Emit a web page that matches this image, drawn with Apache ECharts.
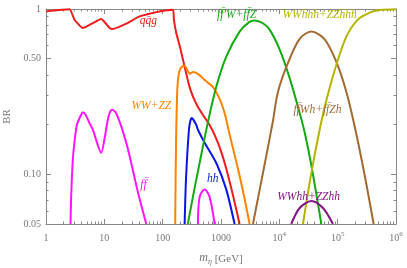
<!DOCTYPE html>
<html><head><meta charset="utf-8">
<script src="https://cdn.jsdelivr.net/npm/echarts@6/dist/echarts.min.js"></script>
<style>html,body{margin:0;padding:0;background:#fff}#c{width:407px;height:268px}</style>
</head><body><div id="c"></div>
<script>
// ---- data (mass in GeV, branching ratio) ----
const qqgM  = [1, 2.53, 3.08, 4.28, 6.1, 8.85, 12.3, 14, 23.8, 40.2, 88.5, 150, 156, 171, 195, 224, 257, 288, 331, 398, 501, 631, 794, 1000, 1259, 1585, 2084];
const qqgBR = [0.967, 0.995, 0.861, 0.767, 0.815, 0.87, 0.767, 0.757, 0.815, 0.902, 0.967, 0.99, 0.86, 0.716, 0.603, 0.49, 0.398, 0.339, 0.295, 0.257, 0.226, 0.2, 0.17, 0.138, 0.105, 0.076, 0.05];
const wwM   = [164, 167, 171, 176, 182, 195, 215, 238, 262, 289, 330, 400, 560, 718, 875, 1024, 1199, 1406, 1711, 2084, 2540, 3096];
const wwBR  = [0.05, 0.1, 0.186, 0.29, 0.365, 0.425, 0.447, 0.454, 0.43, 0.405, 0.415, 0.405, 0.365, 0.339, 0.303, 0.267, 0.223, 0.174, 0.131, 0.098, 0.071, 0.05];
const hhM   = [238, 251, 282, 300, 316, 335, 377, 402, 525, 830, 1230, 1710];
const hhBR  = [0.05, 0.093, 0.186, 0.212, 0.219, 0.214, 0.199, 0.186, 0.155, 0.117, 0.081, 0.05];
const ffWM  = [270, 330, 402, 596, 830, 1230, 2084, 3000, 3770, 5230, 6820, 10100, 15000, 22300, 27100, 35400, 52500];
const ffWBR = [0.05, 0.073, 0.104, 0.206, 0.338, 0.515, 0.73, 0.83, 0.853, 0.82, 0.75, 0.57, 0.383, 0.235, 0.18, 0.113, 0.05];
const ffWhM  = [3530, 5600, 7770, 9460, 14000, 22300, 35400, 59800, 95000, 141000, 195000, 290000, 414000];
const ffWhBR = [0.05, 0.115, 0.21, 0.315, 0.47, 0.66, 0.73, 0.655, 0.478, 0.315, 0.196, 0.099, 0.05];
const hhhM  = [25400, 35400, 49100, 64000, 95000, 141000, 220000, 354000, 525000, 1000000];
const hhhBR = [0.05, 0.102, 0.186, 0.28, 0.46, 0.68, 0.86, 0.95, 0.985, 0.997];
const vvhhM  = [16000, 22300, 35400, 56000, 83000];
const vvhhBR = [0.05, 0.0625, 0.069, 0.0625, 0.05];
const ffLowM  = [2.63, 2.7, 2.88, 3.1, 3.4, 4.0, 4.28, 4.76, 5.57, 6.35, 8.85, 10.2, 11.5, 12.5, 13.5, 15.5, 19.5, 25, 28.9, 37.6, 52.3];
const ffLowBR = [0.05, 0.073, 0.122, 0.16, 0.2, 0.229, 0.237, 0.229, 0.204, 0.186, 0.135, 0.168, 0.215, 0.238, 0.246, 0.238, 0.195, 0.145, 0.117, 0.078, 0.05];
const ffHighM  = [402, 430, 525, 637, 777];
const ffHighBR = [0.05, 0.073, 0.081, 0.073, 0.05];

const xMajor = [1, 10, 100, 1000, 10000, 100000, 1000000];
const yMajor = [0.05, 0.1, 0.5, 1];
const yMajorText = ['0.05', '0.10', '0.50', '1'];
const xMinorMult = [2, 3, 4, 5, 6, 7, 8, 9];
const yMinor = [0.06, 0.07, 0.08, 0.09, 0.2, 0.3, 0.4, 0.6, 0.7, 0.8, 0.9];
// ---------------------------------------------

const xMinor = [];
for (let d = 1; d < 1e6; d *= 10) xMinorMult.forEach(m => xMinor.push(m * d));

const SERIF = "'Liberation Serif', 'DejaVu Serif', serif";
const AX = '#888';
const TXT = '#777';

const pairs = (xs, ys) => xs.map((x, i) => [x, ys[i]]);

function xAxisDef(pos, ticks, len, main) {
  return {
    type: 'log', logBase: 10, min: 1, max: 1e6, position: pos, gridIndex: 0,
    axisLine: { show: main, onZero: false, lineStyle: { color: AX, width: 1 } },
    axisTick: { show: true, inside: true, length: len, customValues: ticks, lineStyle: { color: AX, width: 1 } },
    axisLabel: { show: false },
    splitLine: { show: false }, minorTick: { show: false }
  };
}
function yAxisDef(pos, ticks, len, main) {
  return {
    type: 'log', logBase: 10, min: 0.05, max: 1, position: pos, gridIndex: 0,
    axisLine: { show: main, onZero: false, lineStyle: { color: AX, width: 1 } },
    axisTick: { show: true, inside: true, length: len, customValues: ticks, lineStyle: { color: AX, width: 1 } },
    axisLabel: { show: false },
    splitLine: { show: false }, minorTick: { show: false }
  };
}

const xa0 = xAxisDef('bottom', xMajor, 5, true);
xa0.axisLabel = {
  show: true, customValues: xMajor, margin: 7, color: TXT, fontFamily: SERIF, fontSize: 10,
  formatter: v => {
    const e = Math.round(Math.log10(v));
    if (e <= 3) return '{b|' + Math.round(Math.pow(10, e)) + '}';
    return '{b|10}{s|' + e + '}';
  },
  rich: {
    b: { fontFamily: SERIF, fontSize: 10, color: TXT, lineHeight: 12, verticalAlign: 'bottom' },
    s: { fontFamily: SERIF, fontSize: 7, color: TXT, lineHeight: 12, verticalAlign: 'top', padding: [0, 0, 4, 0] }
  }
};
xa0.name = '{i|m}{s|η} [GeV]';
xa0.nameLocation = 'middle';
xa0.nameGap = 28;
xa0.nameTextStyle = {
  color: TXT, fontFamily: SERIF, fontSize: 11,
  rich: {
    i: { fontFamily: SERIF, fontStyle: 'italic', fontSize: 12, color: TXT, lineHeight: 14, verticalAlign: 'top' },
    s: { fontFamily: SERIF, fontStyle: 'italic', fontSize: 8, color: TXT, lineHeight: 14, verticalAlign: 'bottom' }
  }
};

const ya0 = yAxisDef('left', yMajor, 5, true);
ya0.axisLabel = {
  show: true, customValues: yMajor, margin: 5, color: TXT, fontFamily: SERIF, fontSize: 10,
  formatter: v => {
    let best = 0;
    yMajor.forEach((t, i) => { if (Math.abs(t - v) < Math.abs(yMajor[best] - v)) best = i; });
    return yMajorText[best];
  }
};
ya0.name = 'BR';
ya0.nameLocation = 'middle';
ya0.nameGap = 33;
ya0.nameTextStyle = { color: TXT, fontFamily: SERIF, fontSize: 11 };

function lbl(coord, text, color) {
  return {
    symbol: 'circle', symbolSize: 0, silent: true, animation: false,
    label: { show: true, position: 'inside', formatter: text, color: color, fontFamily: SERIF, fontStyle: 'italic', fontSize: 11.5 },
    data: [{ coord: coord }]
  };
}

function line(name, xs, ys, color, mp, sm) {
  const s = {
    name: name, type: 'line', xAxisIndex: 0, yAxisIndex: 0,
    data: pairs(xs, ys), showSymbol: false, symbol: 'none',
    smooth: sm == null ? 0.3 : sm, clip: true,
    lineStyle: { color: color, width: 2 }, animation: false
  };
  if (mp) s.markPoint = mp;
  return s;
}

const C = {
  red: '#ee1c1c', orange: '#ff8200', blue: '#0a14e6', green: '#14a814',
  brown: '#a06a32', olive: '#b4b400', magenta: '#ff14ff', purple: '#841484'
};
const fb = 'f\u0304';

const option = {
  animation: false,
  backgroundColor: '#fff',
  grid: { left: 46, right: 11, top: 9, bottom: 44, containLabel: false, outerBoundsMode: 'none' },
  xAxis: [
    xa0,
    xAxisDef('bottom', xMinor, 2.5, false),
    xAxisDef('top', xMajor, 5, true),
    xAxisDef('top', xMinor, 2.5, false)
  ],
  yAxis: [
    ya0,
    yAxisDef('left', yMinor, 2.5, false),
    yAxisDef('right', yMajor, 5, true),
    yAxisDef('right', yMinor, 2.5, false)
  ],
  series: [
    line('qqg', qqgM, qqgBR, C.red, lbl([57, 0.85], 'q' + 'q\u0304' + 'g', C.red), 0.15),
    line('WW+ZZ', wwM, wwBR, C.orange, lbl([64, 0.26], 'WW+ZZ', C.orange), 0.15),
    line('hh', hhM, hhBR, C.blue, lbl([720, 0.093], 'hh', C.blue), 0.25),
    line('ffW', ffWM, ffWBR, C.green, lbl([1850, 0.924], 'f' + fb + '\u2032W+f' + fb + 'Z', C.green)),
    line('ffWh', ffWhM, ffWhBR, C.brown, lbl([45000, 0.246], 'f' + fb + 'Wh+f' + fb + 'Zh', C.brown)),
    line('hhh', hhhM, hhhBR, C.olive, lbl([49000, 0.924], 'WWhhh+ZZhhh', C.olive)),
    line('vvhh', vvhhM, vvhhBR, C.purple, lbl([31800, 0.0732], 'WWhh+ZZhh', C.purple)),
    line('ff', ffLowM, ffLowBR, C.magenta, lbl([47, 0.0865], 'f' + fb, C.magenta), 0.25),
    line('ff2', ffHighM, ffHighBR, C.magenta)
  ]
};

const chart = echarts.init(document.getElementById('c'), null, { renderer: 'canvas', width: 407, height: 268 });
chart.setOption(option);
</script>
</body></html>
